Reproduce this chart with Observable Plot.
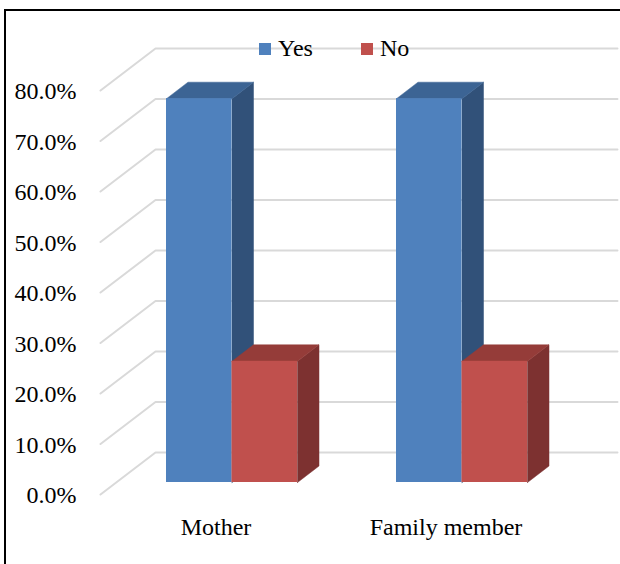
<!DOCTYPE html>
<html>
<head>
<meta charset="utf-8">
<script src="https://cdn.jsdelivr.net/npm/d3@7"></script>
<script src="https://cdn.jsdelivr.net/npm/@observablehq/plot@0.6"></script>
<style>
  html, body { margin: 0; padding: 0; background: #fff; overflow: hidden; }
  #wrap { position: relative; width: 620px; height: 564px; font-family: "Liberation Serif", "Times New Roman", serif; }
  #frame { position: absolute; left: 4px; top: 9px; width: 620px; height: 560px; border-top: 2px solid #000; border-left: 2px solid #000; box-sizing: border-box; }
  #chart { position: absolute; left: 0; top: 0; }
  #chart text { font-family: "Liberation Serif", "Times New Roman", serif; font-weight: normal; }
  #legend { position: absolute; left: 259px; top: 36px; display: flex; align-items: center; font-size: 24px; line-height: 24px; color: #000; }
  .item { display: flex; align-items: center; margin-right: 48px; }
  .sw { width: 12px; height: 12px; margin-right: 7px; margin-top: 2px; }
</style>
</head>
<body>
<div id="wrap">
  <div id="frame"></div>
  <div id="chart"></div>
  <div id="legend"></div>
</div>
<script>
// ---- data ----
const categories = ["Mother", "Family member"];
const series = ["Yes", "No"];
const yesValues = [0.76, 0.76];
const noValues = [0.24, 0.24];
const tickValues = [0, 0.1, 0.2, 0.3, 0.4, 0.5, 0.6, 0.7, 0.8];
const tickLabels = ["0.0%", "10.0%", "20.0%", "30.0%", "40.0%", "50.0%", "60.0%", "70.0%", "80.0%"];

// ---- styles ----
const frontColors = ["#4F81BD", "#C0504D"];
const topColors = ["#3C6494", "#953C39"];
const sideColors = ["#315179", "#7D3130"];
const font = "'Liberation Serif', 'Times New Roman', serif";

// ---- geometry (in data units of the linear scales) ----
const bw = 0.2848;            // bar width (x units)
const ddx = 0.0935, ddy = 0.0327; // bar depth
const frontX = -0.5717, frontDy = -0.0238; // front edge of floor/walls
const backX = -0.3326, backDy = 0.0594;    // back wall
const rightX = 1.676;

const valuesBySeries = [yesValues, noValues];
const fronts = [], tops = [], sides = [];
categories.forEach((c, i) => {
  series.forEach((s, j) => {
    const v = valuesBySeries[j][i];
    const x0 = i - bw + j * bw, x1 = x0 + bw;
    const id = c + "-" + s;
    fronts.push({id, s, j, x1: x0, x2: x1, y1: 0, y2: v});
    [[x0, v], [x1, v], [x1 + ddx, v + ddy], [x0 + ddx, v + ddy], [x0, v]]
      .forEach(([x, y]) => tops.push({id, j, x, y}));
    [[x1, 0], [x1, v], [x1 + ddx, v + ddy], [x1 + ddx, ddy], [x1, 0]]
      .forEach(([x, y]) => sides.push({id, j, x, y}));
  });
});

const grid = [];
tickValues.forEach(t => {
  grid.push({t, x: frontX, y: t + frontDy});
  grid.push({t, x: backX, y: t + backDy});
  grid.push({t, x: rightX, y: t + backDy});
});

const marks = [
  Plot.line(grid, {x: "x", y: "y", z: "t", stroke: "#D9D9D9", strokeWidth: 2})
];
series.forEach((s, j) => {
  marks.push(Plot.line(sides.filter(d => d.j === j), {x: "x", y: "y", z: "id", fill: sideColors[j], stroke: sideColors[j], strokeWidth: 0.5}));
  marks.push(Plot.line(tops.filter(d => d.j === j), {x: "x", y: "y", z: "id", fill: topColors[j], stroke: topColors[j], strokeWidth: 0.5}));
  marks.push(Plot.rect(fronts.filter(d => d.j === j), {x1: "x1", x2: "x2", y1: "y1", y2: "y2", fill: frontColors[j]}));
});
marks.push(Plot.text(tickValues, {
  x: () => frontX, y: d => d + frontDy, text: (d, i) => tickLabels[i],
  textAnchor: "end", dx: -24, dy: 1, fontSize: 24, fontFamily: font, fill: "#000"
}));
marks.push(Plot.text(categories, {
  x: (d, i) => i, y: () => 0, text: d => d,
  dx: -16, dy: 45, fontSize: 24, fontFamily: font, fill: "#000"
}));

const chart = Plot.plot({
  width: 620,
  height: 564,
  marginLeft: 116.5,
  marginRight: 43.5,
  marginTop: 78,
  marginBottom: 82,
  x: {type: "linear", domain: [-0.5, 1.5], axis: null},
  y: {type: "linear", domain: [0, 0.8], axis: null},
  style: {background: "transparent", fontFamily: font, overflow: "visible"},
  marks
});
document.getElementById("chart").appendChild(chart);

const legend = document.getElementById("legend");
series.forEach((s, j) => {
  const item = document.createElement("div");
  item.className = "item";
  const sw = document.createElement("div");
  sw.className = "sw";
  sw.style.background = frontColors[j];
  const lab = document.createElement("span");
  lab.textContent = s;
  item.appendChild(sw);
  item.appendChild(lab);
  legend.appendChild(item);
});
</script>
</body>
</html>
